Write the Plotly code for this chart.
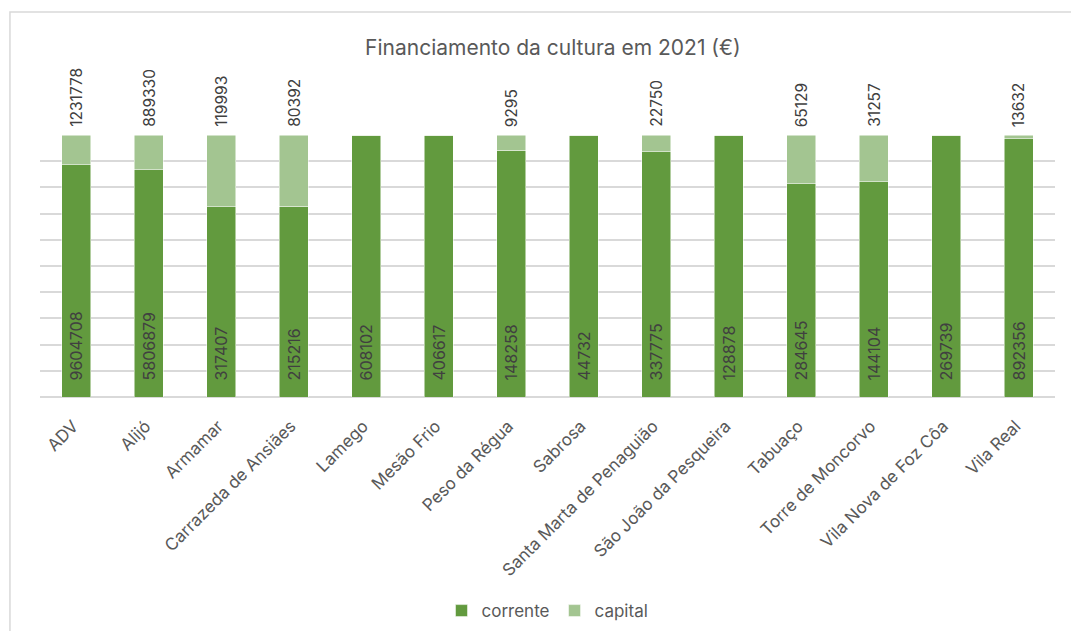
import plotly.graph_objects as go

municipios = ["ADV", "Alijó", "Armamar", "Carrazeda de Ansiães", "Lamego", "Mesão Frio",
              "Peso da Régua", "Sabrosa", "Santa Marta de Penaguião", "São João da Pesqueira",
              "Tabuaço", "Torre de Moncorvo", "Vila Nova de Foz Côa", "Vila Real"]
corrente = [9604708, 5806879, 317407, 215216, 608102, 406617, 148258, 44732, 337775,
            128878, 284645, 144104, 269739, 892356]
capital = [1231778, 889330, 119993, 80392, 0, 0, 9295, 0, 22750, 0, 65129, 31257, 0, 13632]

GRAY = "#595959"
LBL = "#404040"
FONT = "Inter, Roboto, sans-serif"
NB = "\u00a0"

fig = go.Figure()
fig.add_trace(go.Bar(
    x=municipios, y=corrente, name="corrente",
    marker=dict(color="#629A3E", line=dict(color="#ffffff", width=0.5)),
    text=[NB * 3 + str(v) for v in corrente], textposition="inside", insidetextanchor="start",
    textangle=-90, textfont=dict(color=LBL, size=16, family=FONT),
    width=0.4,
))
fig.add_trace(go.Bar(
    x=municipios, y=capital, name="capital",
    marker=dict(color="#A3C591", line=dict(color="#ffffff", width=0.5)),
    width=0.4,
))

annotations = []
for m, c in zip(municipios, capital):
    if c:
        annotations.append(dict(x=m, y=1, xref="x", yref="y", text=str(c), showarrow=False,
                                textangle=-90, yanchor="bottom", xanchor="center", yshift=6,
                                font=dict(color=LBL, size=15.5, family=FONT)))

fig.update_layout(
    width=1079, height=631,
    barmode="stack", barnorm="fraction",
    paper_bgcolor="white", plot_bgcolor="white",
    margin=dict(l=32, r=32, t=127, b=242, autoexpand=False),
    font=dict(family=FONT, color=GRAY, size=15),
    title=dict(text="Financiamento da cultura em 2021 (€)", x=0.505, xanchor="center",
               y=0.9366, yanchor="middle", automargin=False,
               font=dict(size=21, color=GRAY, family=FONT)),
    legend=dict(orientation="h", x=0.5, xanchor="center", y=-0.817, yanchor="middle",
                font=dict(size=17, color=GRAY, family=FONT), traceorder="normal"),
    annotations=annotations,
    shapes=[dict(type="rect", xref="paper", yref="paper", x0=-0.0296, x1=1.05,
                 y0=-0.95, y1=1.469, line=dict(color="#d9d9d9", width=1.5),
                 fillcolor="rgba(0,0,0,0)", layer="below")],
)
fig.update_xaxes(tickangle=-45, tickfont=dict(size=17, color=GRAY, family=FONT),
                 showline=False, ticks="", automargin=False,
                 ticklabelstandoff=15, ticklabelshift=-3)
fig.update_yaxes(range=[0, 1], dtick=0.1, showticklabels=False, showgrid=True,
                 gridcolor="#d9d9d9", gridwidth=1.5, zeroline=True, automargin=False,
                 zerolinecolor="#d9d9d9", zerolinewidth=1.5)

fig.write_html("out.html")
